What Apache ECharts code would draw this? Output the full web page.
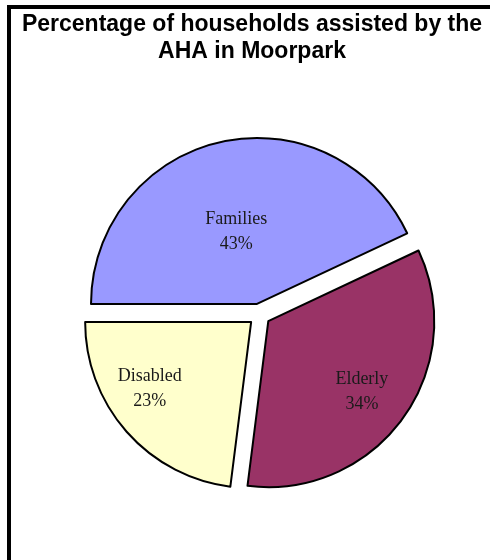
<!DOCTYPE html>
<html>
<head>
<meta charset="utf-8">
<script src="https://cdn.jsdelivr.net/npm/echarts@6/dist/echarts.min.js"></script>
<style>
  html, body { margin: 0; padding: 0; background: #fff; }
  #chart { width: 490px; height: 560px; }
</style>
</head>
<body>
<div id="chart"></div>
<script>
// Household groups assisted by the AHA in Moorpark (percent of total)
const categories = ['Families', 'Elderly', 'Disabled'];
const shares = [43, 34, 23];
const sliceColors = ['#9999FF', '#993366', '#FFFFCC'];

// Nudge each inside label to sit where it reads best in its wedge
const labelNudge = [[-2, 12], [24, 20], [-37, 10]];

const chart = echarts.init(document.getElementById('chart'), null, { renderer: 'canvas' });

chart.setOption({
  animation: false,
  backgroundColor: '#ffffff',
  title: {
    text: 'Percentage of households assisted by the\nAHA in Moorpark',
    left: 247,
    top: 6,
    textAlign: 'center',
    textStyle: {
      fontFamily: 'Liberation Sans, Arial, sans-serif',
      fontWeight: 'bold',
      fontSize: 23,
      lineHeight: 27,
      color: '#000'
    }
  },
  graphic: [{
    type: 'rect',
    silent: true,
    z: 100,
    shape: { x: 9, y: 7, width: 700, height: 700 },
    style: { fill: 'none', stroke: '#000', lineWidth: 4 }
  }],
  series: [{
    type: 'pie',
    center: [259.4, 314.7],
    radius: [0, 166],
    startAngle: 180,
    clockwise: true,
    selectedMode: 'multiple',
    selectedOffset: 11,
    avoidLabelOverlap: false,
    emphasis: { disabled: true },
    itemStyle: { borderColor: '#000', borderWidth: 2 },
    label: {
      show: true,
      position: 'inside',
      formatter: '{b}\n{d}%',
      fontFamily: 'Liberation Serif, Times New Roman, serif',
      fontSize: 18,
      lineHeight: 25,
      color: '#1a1a1a'
    },
    labelLine: { show: false },
    labelLayout: function (params) {
      const n = labelNudge[params.dataIndex];
      return { dx: n[0], dy: n[1] };
    },
    data: categories.map((name, i) => ({
      name: name,
      value: shares[i],
      selected: true,
      itemStyle: { color: sliceColors[i] }
    }))
  }]
});
</script>
</body>
</html>
